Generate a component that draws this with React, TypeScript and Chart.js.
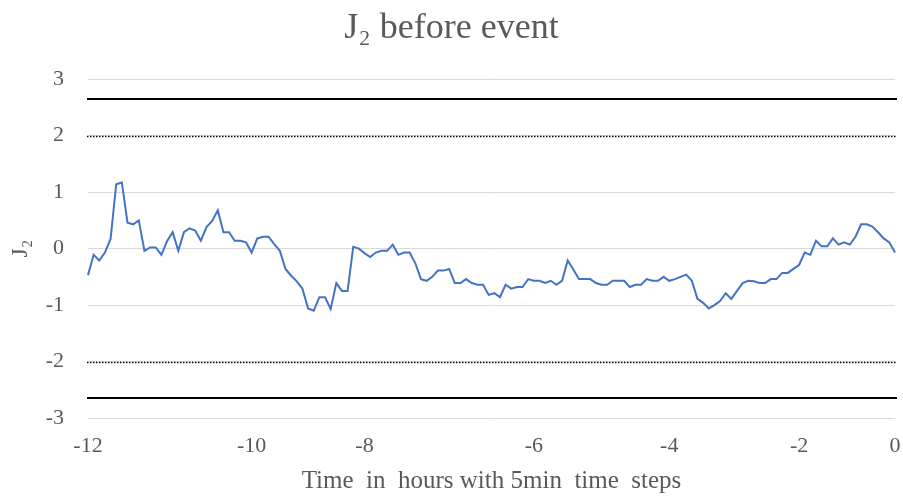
import React, { useEffect, useRef } from "react";
import { Chart, registerables } from "chart.js";

Chart.register(...registerables);

// J2 values, one per 5-minute step, from 12 h before the event to the event
const j2Values = [
  -0.47, -0.11, -0.21, -0.07, 0.17, 1.14, 1.17, 0.46, 0.43, 0.5,
  -0.04, 0.02, 0.02, -0.11, 0.13, 0.29, -0.04, 0.29, 0.36, 0.32,
  0.14, 0.38, 0.49, 0.68, 0.29, 0.29, 0.14, 0.14, 0.11, -0.07,
  0.18, 0.21, 0.21, 0.08, -0.04, -0.36, -0.48, -0.58, -0.71, -1.06,
  -1.1, -0.86, -0.86, -1.07, -0.61, -0.75, -0.75, 0.03, 0.0, -0.08,
  -0.15, -0.07, -0.04, -0.04, 0.07, -0.11, -0.07, -0.07, -0.26, -0.54,
  -0.57, -0.5, -0.39, -0.39, -0.36, -0.61, -0.61, -0.54, -0.61, -0.64,
  -0.64, -0.82, -0.79, -0.86, -0.64, -0.71, -0.68, -0.68, -0.54, -0.57,
  -0.57, -0.61, -0.57, -0.64, -0.57, -0.21, -0.37, -0.54, -0.54, -0.54,
  -0.61, -0.64, -0.64, -0.57, -0.57, -0.57, -0.68, -0.64, -0.64, -0.54,
  -0.57, -0.57, -0.5, -0.57, -0.54, -0.5, -0.46, -0.57, -0.89, -0.96,
  -1.06, -1.0, -0.93, -0.79, -0.89, -0.75, -0.61, -0.57, -0.58, -0.61,
  -0.61, -0.54, -0.54, -0.43, -0.43, -0.36, -0.29, -0.07, -0.11, 0.14,
  0.04, 0.04, 0.18, 0.07, 0.11, 0.07, 0.21, 0.43, 0.43, 0.39,
  0.29, 0.18, 0.11, -0.07,
];

// category for each time step
const timeSteps = j2Values.map((_, i) => String(i));

// which category carries an hour label, and the label text
const xTickAt = [0, 29, 49, 79, 103, 126, 143];
const xTickLabels = ["-12", "-10", "-8", "-6", "-4", "-2", "0"];

const yMin = -3;
const yMax = 3;

// control limits (solid) and warning limits (dotted)
const controlLimits = [2.65, -2.65];
const warningLimits = [2, -2];

const FONT = "'Liberation Serif', 'Times New Roman', serif";
const TEXT = "#595959";

const limitLinesPlugin = {
  id: "limitLines",
  beforeDatasetsDraw(chart: any) {
    const { ctx, chartArea, scales } = chart;
    const y = scales.y;
    ctx.save();
    ctx.strokeStyle = "#000000";
    ctx.lineWidth = 2;
    ctx.setLineDash([]);
    for (const v of controlLimits) {
      const py = Math.round(y.getPixelForValue(v));
      ctx.beginPath();
      ctx.moveTo(chartArea.left - 1, py);
      ctx.lineTo(chartArea.right + 2, py);
      ctx.stroke();
    }
    ctx.lineWidth = 1.5;
    ctx.setLineDash([1.5, 1.5]);
    for (const v of warningLimits) {
      const py = Math.round(y.getPixelForValue(v)) + 0.5;
      ctx.beginPath();
      ctx.moveTo(chartArea.left - 1, py);
      ctx.lineTo(chartArea.right + 2, py);
      ctx.stroke();
    }
    ctx.restore();
  },
};

export default function App() {
  const canvasRef = useRef<HTMLCanvasElement | null>(null);

  useEffect(() => {
    document.body.style.margin = "0";
    document.body.style.overflow = "hidden";
    const canvas = canvasRef.current;
    if (!canvas) return;
    const chart = new Chart(canvas, {
      type: "line",
      data: {
        labels: timeSteps,
        datasets: [
          {
            label: "J2",
            data: j2Values,
            borderColor: "#4472C4",
            borderWidth: 2,
            pointRadius: 0,
            tension: 0,
            fill: false,
          },
        ],
      },
      options: {
        responsive: false,
        animation: false,
        events: [],
        layout: { padding: { left: 0, right: 0, top: 0, bottom: 0 } },
        plugins: {
          legend: { display: false },
          tooltip: { enabled: false },
          title: {
            display: true,
            text: "J\u2082 before event",
            color: TEXT,
            font: { family: FONT, size: 36, weight: "normal" },
            padding: { top: 7, bottom: 29 },
          },
        },
        scales: {
          x: {
            type: "category",
            offset: false,
            grid: { display: false },
            border: { display: false },
            ticks: {
              autoSkip: false,
              maxRotation: 0,
              minRotation: 0,
              padding: 7,
              color: TEXT,
              font: { family: FONT, size: 22 },
              callback: (_v: any, idx: number) => {
                const k = xTickAt.indexOf(idx);
                return k >= 0 ? xTickLabels[k] : "";
              },
            },
            title: {
              display: true,
              text: "Time  in  hours with 5min  time  steps",
              color: TEXT,
              font: { family: FONT, size: 25 },
              padding: { top: 4, bottom: 0 },
            },
            afterFit: (s: any) => {
              s.height = 78;
              s.paddingRight = 8;
            },
          },
          y: {
            min: yMin,
            max: yMax,
            grid: { color: "#d9d9d9", lineWidth: 1, drawTicks: false },
            border: { display: false },
            ticks: {
              stepSize: 1,
              padding: 24,
              color: TEXT,
              font: { family: FONT, size: 22 },
            },
            title: {
              display: true,
              text: "J\u2082",
              color: TEXT,
              font: { family: FONT, size: 24 },
              padding: { top: 6, bottom: 0 },
            },
            afterFit: (s: any) => {
              s.width = 88;
            },
          },
        },
      },
      plugins: [limitLinesPlugin],
    });
    return () => chart.destroy();
  }, []);

  return <canvas ref={canvasRef} width={903} height={496} style={{ display: "block" }} />;
}
